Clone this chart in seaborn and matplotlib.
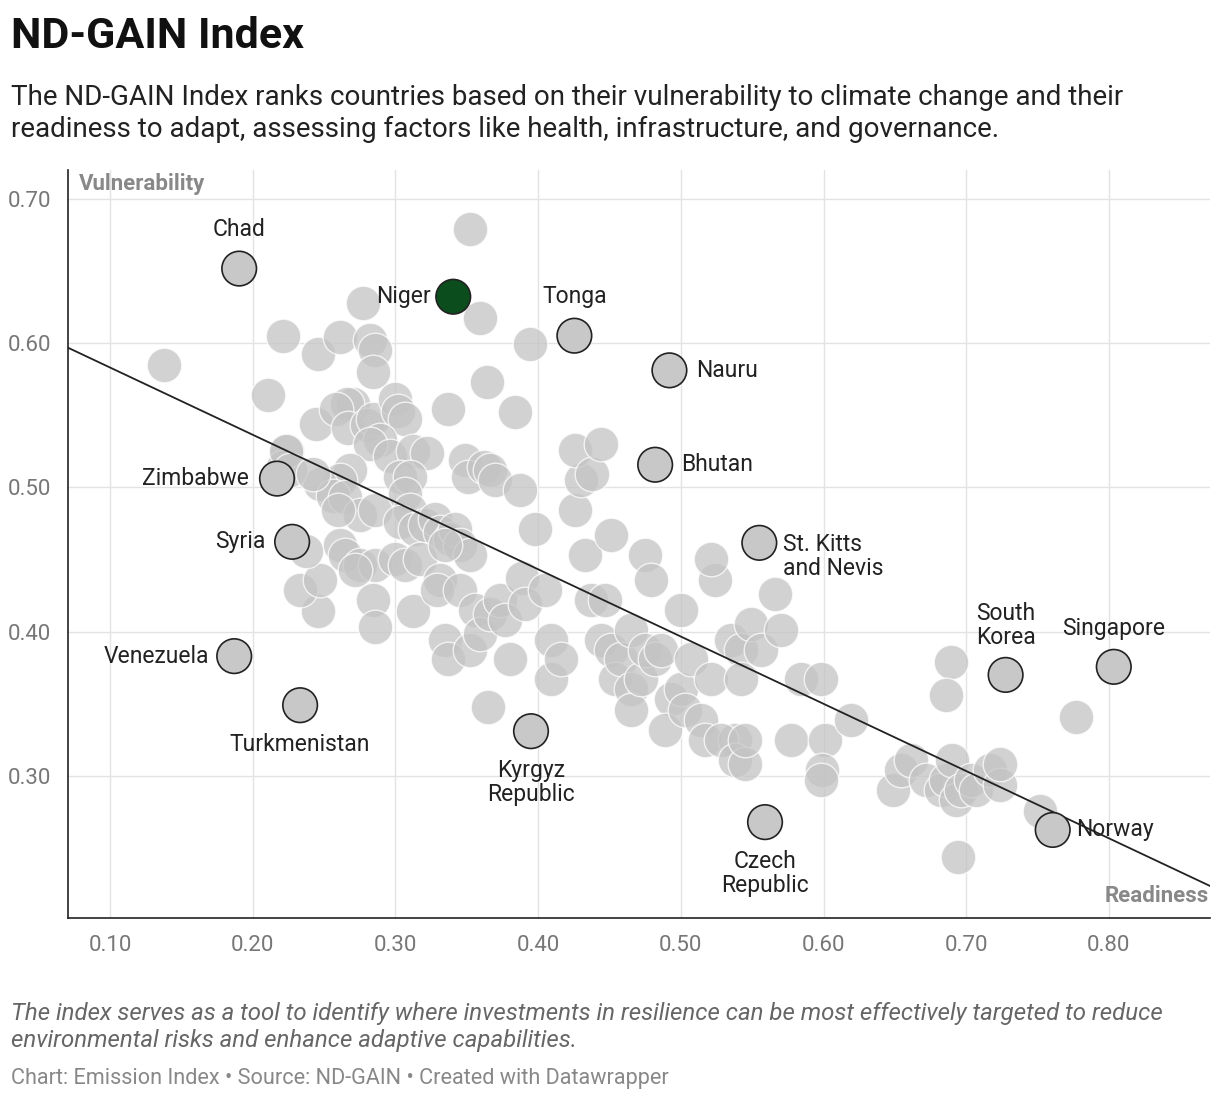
import pandas as pd
import seaborn as sns
import matplotlib.pyplot as plt

# background countries (readiness, vulnerability)
bg_x = [0.138, 0.211, 0.221, 0.246, 0.261, 0.277, 0.282, 0.286, 0.284, 0.270, 0.266, 0.244, 0.224, 0.221,
        0.258, 0.267, 0.280, 0.284, 0.300, 0.302, 0.307, 0.289, 0.282, 0.296, 0.312, 0.322, 0.268, 0.261,
        0.247, 0.256, 0.265, 0.275, 0.286, 0.303, 0.310, 0.307, 0.310, 0.303, 0.314, 0.321, 0.328, 0.331,
        0.338, 0.342, 0.345, 0.352, 0.261, 0.265, 0.275, 0.286, 0.300, 0.307, 0.284, 0.286, 0.312, 0.246,
        0.233, 0.247, 0.272, 0.317, 0.331, 0.335, 0.337, 0.349, 0.351, 0.362, 0.366, 0.370, 0.387, 0.384,
        0.364, 0.359, 0.352, 0.394, 0.365, 0.329, 0.345, 0.335, 0.337, 0.352, 0.356, 0.359, 0.366, 0.373,
        0.377, 0.380, 0.389, 0.391, 0.398, 0.405, 0.409, 0.409, 0.416, 0.426, 0.430, 0.426, 0.438, 0.444,
        0.433, 0.437, 0.447, 0.451, 0.444, 0.451, 0.454, 0.458, 0.465, 0.465, 0.465, 0.472, 0.475, 0.475,
        0.479, 0.482, 0.486, 0.493, 0.500, 0.489, 0.500, 0.503, 0.507, 0.514, 0.517, 0.521, 0.524, 0.521,
        0.535, 0.538, 0.542, 0.542, 0.528, 0.538, 0.545, 0.545, 0.549, 0.556, 0.566, 0.570, 0.577, 0.584,
        0.598, 0.601, 0.599, 0.598, 0.619, 0.649, 0.654, 0.661, 0.672, 0.682, 0.686, 0.689, 0.690, 0.693,
        0.696, 0.703, 0.707, 0.717, 0.724, 0.752, 0.777, 0.694, 0.223, 0.226, 0.242, 0.260, 0.237, 0.686,
        0.724]
bg_y = [0.585, 0.564, 0.605, 0.592, 0.604, 0.628, 0.602, 0.595, 0.580, 0.558, 0.558, 0.544, 0.525, 0.514,
        0.554, 0.541, 0.543, 0.547, 0.561, 0.553, 0.547, 0.533, 0.530, 0.522, 0.525, 0.524, 0.512, 0.505,
        0.502, 0.494, 0.493, 0.481, 0.484, 0.507, 0.507, 0.495, 0.484, 0.476, 0.471, 0.474, 0.478, 0.469,
        0.464, 0.471, 0.460, 0.453, 0.460, 0.453, 0.446, 0.446, 0.450, 0.446, 0.422, 0.403, 0.414, 0.414,
        0.429, 0.436, 0.443, 0.450, 0.436, 0.460, 0.554, 0.519, 0.507, 0.514, 0.512, 0.505, 0.498, 0.552,
        0.573, 0.617, 0.679, 0.599, 0.348, 0.429, 0.429, 0.394, 0.381, 0.387, 0.415, 0.398, 0.412, 0.422,
        0.408, 0.381, 0.437, 0.419, 0.471, 0.429, 0.394, 0.367, 0.381, 0.484, 0.505, 0.526, 0.509, 0.530,
        0.453, 0.422, 0.422, 0.467, 0.394, 0.387, 0.367, 0.381, 0.401, 0.360, 0.346, 0.367, 0.387, 0.453,
        0.436, 0.381, 0.387, 0.353, 0.415, 0.332, 0.360, 0.346, 0.381, 0.339, 0.325, 0.367, 0.436, 0.450,
        0.394, 0.325, 0.387, 0.367, 0.325, 0.311, 0.308, 0.325, 0.405, 0.387, 0.426, 0.401, 0.325, 0.367,
        0.367, 0.325, 0.304, 0.297, 0.339, 0.290, 0.304, 0.311, 0.297, 0.290, 0.297, 0.379, 0.311, 0.283,
        0.290, 0.297, 0.290, 0.304, 0.294, 0.276, 0.341, 0.244, 0.525, 0.512, 0.509, 0.484, 0.456, 0.356,
        0.308]

# labelled countries
names = ["Chad", "Niger", "Tonga", "Nauru", "Bhutan", "Zimbabwe", "Syria", "St. Kitts\nand Nevis",
         "Venezuela", "Turkmenistan", "Kyrgyz\nRepublic", "Czech\nRepublic", "South\nKorea", "Singapore", "Norway"]
lab_x = [0.1905, 0.3405, 0.4254, 0.492, 0.482, 0.217, 0.2276, 0.555, 0.187, 0.2332, 0.395, 0.559, 0.7276, 0.8034, 0.7606]
lab_y = [0.6515, 0.632, 0.605, 0.581, 0.5156, 0.506, 0.4622, 0.4615, 0.383, 0.349, 0.331, 0.268, 0.370, 0.3756, 0.2626]

# trend line end points
trend_x = [0.0705, 0.871]
trend_y = [0.5967, 0.2237]

sns.set_style("whitegrid")
plt.rcParams["font.family"] = ["Roboto", "DejaVu Sans"]

fig = plt.figure(figsize=(12.2, 11.02), dpi=100)
ax = fig.add_axes([0.0557, 0.167, 0.9363, 0.679])

bg = pd.DataFrame({"x": bg_x, "y": bg_y})
sns.scatterplot(data=bg, x="x", y="y", s=620, color="#c4c4c4", alpha=0.75,
                edgecolor="white", linewidth=1, ax=ax, zorder=2)
sns.lineplot(x=trend_x, y=trend_y, color="#222222", linewidth=1.3, ax=ax, zorder=3)

lab = pd.DataFrame({"x": lab_x, "y": lab_y, "name": names})
colors = ["#0b4d1c" if n == "Niger" else "#c8c8c8" for n in names]
ax.scatter(lab["x"], lab["y"], s=620, c=colors, edgecolors="#222222", linewidths=1.2, zorder=4)

# label offsets (points)
offs = {"Chad": (0, 20, "center", "bottom"), "Niger": (-16, 0, "right", "center"),
        "Tonga": (0, 20, "center", "bottom"), "Nauru": (19, 0, "left", "center"),
        "Bhutan": (19, 0, "left", "center"), "Zimbabwe": (-20, 0, "right", "center"),
        "Syria": (-19, 0, "right", "center"), "St. Kitts\nand Nevis": (17, -10, "left", "center"),
        "Venezuela": (-18, 0, "right", "center"), "Turkmenistan": (0, -20, "center", "top"),
        "Kyrgyz\nRepublic": (0, -20, "center", "top"), "Czech\nRepublic": (0, -20, "center", "top"),
        "South\nKorea": (0, 19, "center", "bottom"), "Singapore": (0, 19, "center", "bottom"),
        "Norway": (17, 0, "left", "center")}
for n, x, y in zip(names, lab_x, lab_y):
    dx, dy, ha, va = offs[n]
    ax.annotate(n, (x, y), xytext=(dx, dy), textcoords="offset points", ha=ha, va=va,
                fontsize=16.5, color="#222222", linespacing=1.05, zorder=5)

ax.set_xlim(0.0705, 0.871)
ax.set_ylim(0.2016, 0.72)
ax.set_xticks([0.1, 0.2, 0.3, 0.4, 0.5, 0.6, 0.7, 0.8])
ax.set_yticks([0.3, 0.4, 0.5, 0.6, 0.7])
ax.set_xticklabels([f"{v:.2f}" for v in ax.get_xticks()])
ax.set_yticklabels([f"{v:.2f}" for v in ax.get_yticks()])
ax.tick_params(axis="both", labelsize=16, colors="#777777", length=0, pad=12)
ax.grid(color="#e3e3e3", linewidth=1)
ax.set_xlabel("")
ax.set_ylabel("")
for s in ["top", "right"]:
    ax.spines[s].set_visible(False)
for s in ["left", "bottom"]:
    ax.spines[s].set_color("#222222")
    ax.spines[s].set_linewidth(1.2)

ax.text(0.01, 0.995, "Vulnerability", transform=ax.transAxes, fontsize=16, fontweight="bold",
        color="#888888", ha="left", va="top")
ax.text(0.999, 0.015, "Readiness", transform=ax.transAxes, fontsize=16, fontweight="bold",
        color="#888888", ha="right", va="bottom")

fig.text(0.009, 0.967, "ND-GAIN Index", fontsize=31, fontweight="bold", color="#111111", va="center")
fig.text(0.009, 0.897, "The ND-GAIN Index ranks countries based on their vulnerability to climate change and their\n"
         "readiness to adapt, assessing factors like health, infrastructure, and governance.",
         fontsize=20, color="#222222", va="center", linespacing=1.25)
fig.text(0.009, 0.068, "The index serves as a tool to identify where investments in resilience can be most effectively targeted to reduce\n"
         "environmental risks and enhance adaptive capabilities.",
         fontsize=17.3, color="#666666", style="italic", va="center", linespacing=1.2)
fig.text(0.009, 0.021, "Chart: Emission Index • Source: ND-GAIN • Created with Datawrapper",
         fontsize=15.6, color="#888888", va="center")

fig.savefig("out.png", dpi=100)
